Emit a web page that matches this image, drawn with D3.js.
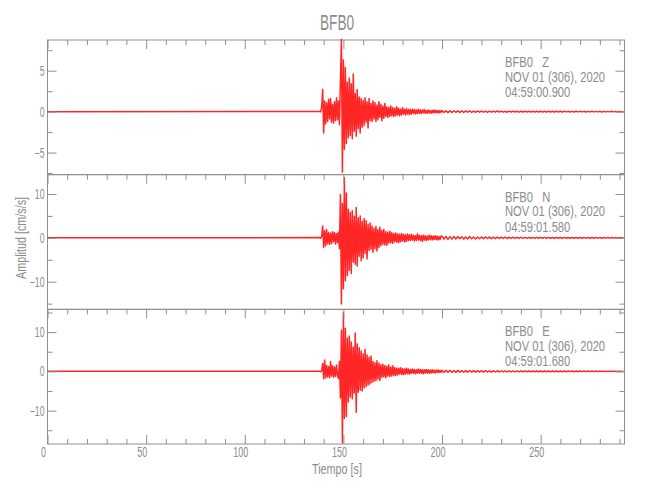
<!DOCTYPE html>
<html><head><meta charset="utf-8">
<script src="https://cdn.jsdelivr.net/npm/d3@7"></script>
<style>body{margin:0;background:#fff}svg{display:block}</style>
</head><body>
<script>
// ---------- data ----------
const title = "BFB0";
const stationName = "BFB0";
const components = ["Z", "N", "E"];
const startTimes = ["04:59:00.900", "04:59:01.580", "04:59:01.680"];
const dateLabel = "NOV 01 (306), 2020";
const xLabel = "Tiempo [s]";
const yLabel = "Amplitud [cm/s/s]";
const xDomain = [0, 292.5];
const xTickValues = [0, 50, 100, 150, 200, 250];
const yDomains = [[-7.7, 8.75], [-16.3, 14.4], [-18.5, 15.8]];
const yMajorTicks = [[-5, 0, 5], [-10, 0, 10], [-10, 0, 10]];
const yMinorTicks = [[-7.5, -2.5, 2.5, 7.5], [-15, -5, 5], [-15, -5, 5, 15]];
const quietStart = 0;           // trace before the event is flat at 0
const mainStart = 138, mainStep = 0.5;
const tailStart = 200, tailStep = 1;

const zMain = [0.03,-0.04,0.6,2.7,-2.6,1.3,-1.5,1.1,-1.2,1.5,-0.9,1.6,-1.3,0.9,-1.4,1.2,-1.1,1.7,-1.0,1.3,
-1.6,3.8,8.8,-7.4,6.3,-4.6,5.4,-3.9,3.6,-3.2,4.1,-2.9,3.4,-3.3,4.6,-2.4,2.2,-3.0,2.7,-2.1,
1.8,-2.6,1.6,-1.9,1.4,-1.7,1.7,-1.3,1.2,-2.0,1.6,-1.1,1.0,-1.2,1.3,-0.9,1.1,-1.2,0.8,-1.0,
1.2,-0.7,0.9,-1.1,0.7,-0.8,1.0,-0.6,0.6,-0.7,0.5,-0.6,0.7,-0.5,0.5,-0.6,0.4,-0.5,0.6,-0.4,
0.4,-0.5,0.3,-0.4,0.5,-0.3,0.3,-0.4,0.35,-0.3,0.3,-0.35,0.25,-0.3,0.3,-0.2,0.25,-0.3,0.2,-0.25,
0.3,-0.2,0.2,-0.25,0.2,-0.15,0.25,-0.2,0.15,-0.2,0.2,-0.15,0.15,-0.2,0.15,-0.15,0.2,-0.12,0.15,-0.15,
0.12,-0.15,0.15,-0.1];
const zTail = [0.12,-0.1,0.1,-0.12,0.09,-0.1,0.11,-0.08,0.1,-0.09,0.08,-0.1,0.09,-0.07,0.08,-0.09,0.07,-0.08,0.09,-0.06,
0.07,-0.07,0.06,-0.08,0.07,-0.06,0.06,-0.07,0.08,-0.05,0.06,-0.06,0.05,-0.07,0.06,-0.05,0.06,-0.05,0.05,-0.06,
0.05,-0.05,0.06,-0.04,0.05,-0.05,0.04,-0.05,0.05,-0.04,0.05,-0.04,0.04,-0.05,0.04,-0.04,0.05,-0.04,0.04,-0.04,
0.04,-0.05,0.04,-0.03,0.04,-0.04,0.03,-0.04,0.04,-0.03,0.04,-0.03,0.03,-0.04,0.03,-0.03,0.04,-0.03,0.03,-0.03,
0.03,-0.04,0.03,-0.03,0.03,-0.03,0.04,-0.03,0.03,-0.03,0.03,-0.03,0.02];

const nMain = [0.05,-0.1,0.4,2.7,-2.2,1.6,-1.8,1.9,-1.4,1.2,-1.5,1.1,-1.3,1.4,-0.9,1.2,-1.4,1.0,-1.1,1.3,
-2.5,9.9,-15.1,7.8,-11.6,13.7,-9.8,10.2,-8.6,6.5,-7.4,5.8,-8.1,6.2,-5.5,4.9,-6.0,6.9,-6.4,4.6,
-4.2,5.0,-5.2,3.8,-4.6,4.4,-3.5,3.9,-4.8,3.1,-2.9,3.4,-2.6,2.7,-3.3,2.2,-2.5,2.6,-3.0,1.9,
-2.2,2.4,-1.8,1.7,-1.5,1.9,-1.6,1.4,-1.7,1.3,-1.2,1.5,-1.1,1.2,-1.3,1.0,-0.9,1.1,-1.0,0.9,
-1.1,0.8,-0.9,1.0,-0.7,0.8,-0.9,0.7,-0.8,0.9,-0.6,0.7,-0.6,0.8,-0.5,0.6,-0.7,0.5,-0.6,0.9,
-0.5,0.6,-0.6,0.5,-0.8,0.6,-0.5,0.5,-0.6,0.4,-0.5,0.6,-0.4,0.5,-0.5,0.4,-0.4,0.5,-0.4,0.4,
-0.5,0.3,-0.4,0.4];
const nTail = [0.35,-0.3,0.3,-0.35,0.25,-0.3,0.3,-0.25,0.3,-0.2,0.25,-0.3,0.2,-0.25,0.3,-0.2,0.2,-0.25,0.2,-0.2,
0.2,-0.18,0.2,-0.15,0.18,-0.18,0.15,-0.18,0.15,-0.15,0.15,-0.15,0.14,-0.15,0.12,-0.14,0.15,-0.12,0.12,-0.12,
0.12,-0.12,0.1,-0.12,0.12,-0.1,0.1,-0.12,0.1,-0.1,0.1,-0.1,0.1,-0.09,0.1,-0.1,0.09,-0.1,0.08,-0.1,
0.09,-0.08,0.1,-0.09,0.08,-0.08,0.09,-0.08,0.08,-0.08,0.08,-0.08,0.08,-0.07,0.08,-0.08,0.07,-0.08,0.08,-0.07,
0.07,-0.08,0.07,-0.07,0.08,-0.07,0.07,-0.07,0.07,-0.07,0.07,-0.06,0.06];

const eMain = [0.05,-0.08,0.2,2.0,-1.9,2.9,-1.7,1.5,-1.4,1.2,-1.6,2.5,-1.2,1.4,-1.5,1.1,-1.3,1.6,-1.0,-1.8,
2.6,-6.8,10.5,-18.2,15.0,-12.0,11.0,-11.5,8.5,-7.8,9.0,-6.5,7.5,-7.0,6.2,-5.5,9.8,-10.4,7.0,-5.3,
6.0,-4.8,5.2,-5.0,4.5,-4.2,5.6,-3.9,4.2,-3.5,3.6,-3.2,3.9,-2.8,2.5,-2.6,2.2,-2.4,2.7,-2.0,
2.1,-2.3,1.7,-1.5,1.8,-1.4,1.5,-1.6,1.3,-1.2,1.6,-1.3,1.1,-1.2,1.4,-1.0,1.0,-1.1,0.8,-0.9,
0.8,-0.7,0.9,-0.8,0.7,-0.8,0.6,-0.7,0.8,-0.6,0.6,-0.7,0.5,-0.5,0.6,-0.5,0.5,-0.6,0.4,-0.5,
0.6,-0.4,0.5,-0.5,0.4,-0.6,0.4,-0.4,0.5,-0.4,0.4,-0.5,0.35,-0.4,0.4,-0.35,0.3,-0.4,0.35,-0.3,
0.35,-0.3,0.3,-0.3];
const eTail = [0.3,-0.28,0.3,-0.25,0.28,-0.25,0.22,-0.25,0.25,-0.2,0.22,-0.22,0.2,-0.2,0.22,-0.18,0.18,-0.2,0.18,-0.18,
0.16,-0.18,0.17,-0.15,0.15,-0.16,0.14,-0.15,0.15,-0.13,0.13,-0.14,0.12,-0.13,0.13,-0.12,0.12,-0.12,0.11,-0.12,
0.11,-0.1,0.12,-0.1,0.1,-0.11,0.1,-0.1,0.1,-0.09,0.1,-0.09,0.09,-0.1,0.09,-0.08,0.09,-0.09,0.08,-0.08,
0.08,-0.09,0.08,-0.08,0.08,-0.07,0.08,-0.08,0.07,-0.08,0.07,-0.07,0.08,-0.07,0.07,-0.07,0.07,-0.07,0.07,-0.06,
0.07,-0.06,0.06,-0.07,0.06,-0.06,0.06,-0.06,0.06,-0.06,0.06,-0.06,0.06];

const mainSeries = [zMain, nMain, eMain];
const tailSeries = [zTail, nTail, eTail];

// ---------- layout ----------
const W = 650, H = 500;
const plotLeft = 47.5, plotRight = 624.5, plotTop = 40, plotBottom = 444;
const panelH = (plotBottom - plotTop) / 3;
const FONT = "'Liberation Sans', Arial, sans-serif";
const TXT = "#8c8c8c", AX = "#8f8f8f", TRACE = "#ff0000";

const svg = d3.select("body").append("svg").attr("width", W).attr("height", H);
const x = d3.scaleLinear().domain(xDomain).range([plotLeft, plotRight]);

function addText(parent, px, py, str, size, f, anchor, rot) {
  return parent.append("text")
    .attr("transform", `translate(${px},${py})${rot ? ` rotate(${rot})` : ""} scale(${f},1)`)
    .attr("text-anchor", anchor || "start")
    .attr("font-family", FONT).attr("font-size", size)
    .attr("fill", TXT).style("white-space", "pre").text(str);
}

addText(svg, 337, 30, title, 22, 0.62, "middle");

components.forEach((comp, i) => {
  const y0 = plotTop + i * panelH, y1 = y0 + panelH;
  const y = d3.scaleLinear().domain(yDomains[i]).range([y1, y0]);
  const g = svg.append("g");

  // frame
  g.append("rect").attr("x", plotLeft).attr("y", y0).attr("width", plotRight - plotLeft).attr("height", panelH)
    .attr("fill", "none").attr("stroke", AX).attr("stroke-width", 1);

  // trace
  const pts = [[quietStart, 0]];
  mainSeries[i].forEach((v, k) => pts.push([mainStart + k * mainStep, v]));
  tailSeries[i].forEach((v, k) => pts.push([tailStart + k * tailStep, v]));
  g.append("path").datum(pts)
    .attr("d", d3.line().x(d => x(d[0])).y(d => y(d[1])))
    .attr("fill", "none").attr("stroke", TRACE).attr("stroke-width", 1.5)
    .attr("stroke-opacity", 0.85).attr("stroke-linejoin", "round");

  const minorX = d3.range(10, 292, 10).filter(v => v % 50);
  // top ticks (inside)
  const topMajor = d3.axisBottom(x).tickValues(xTickValues).tickSize(9).tickSizeOuter(0).tickFormat("");
  const topMinor = d3.axisBottom(x).tickValues(minorX).tickSize(5).tickSizeOuter(0).tickFormat("");
  [topMajor, topMinor].forEach(ax => {
    const a = g.append("g").attr("transform", `translate(0,${y0})`).call(ax);
    a.select(".domain").remove();
    a.selectAll("line").attr("stroke", AX);
  });

  // left / right ticks
  const lMaj = d3.axisRight(y).tickValues(yMajorTicks[i]).tickSize(9).tickSizeOuter(0).tickFormat("");
  const lMin = d3.axisRight(y).tickValues(yMinorTicks[i]).tickSize(5).tickSizeOuter(0).tickFormat("");
  const rMaj = d3.axisLeft(y).tickValues(yMajorTicks[i]).tickSize(9).tickSizeOuter(0).tickFormat("");
  const rMin = d3.axisLeft(y).tickValues(yMinorTicks[i]).tickSize(5).tickSizeOuter(0).tickFormat("");
  [[lMaj, plotLeft], [lMin, plotLeft], [rMaj, plotRight], [rMin, plotRight]].forEach(([ax, px]) => {
    const a = g.append("g").attr("transform", `translate(${px},0)`).call(ax);
    a.select(".domain").remove();
    a.selectAll("line").attr("stroke", AX);
  });
  // y tick labels
  yMajorTicks[i].forEach(v => {
    addText(g, plotLeft - 3, y(v) + 5, v < 0 ? "\u2212" + Math.abs(v) : String(v), 14, 0.62, "end");
  });

  // annotation
  const ax0 = 505;
  addText(g, ax0, y0 + 27, stationName + "   " + comp, 14, 0.8, "start");
  addText(g, ax0, y0 + 41.5, dateLabel, 14, 0.8, "start");
  addText(g, ax0, y0 + 57, startTimes[i], 14, 0.8, "start");

  if (i === 2) {
    const bMaj = d3.axisTop(x).tickValues(xTickValues).tickSize(9).tickSizeOuter(0).tickFormat("");
    const bMin = d3.axisTop(x).tickValues(minorX).tickSize(5).tickSizeOuter(0).tickFormat("");
    [bMaj, bMin].forEach(ax => {
      const a = g.append("g").attr("transform", `translate(0,${y1})`).call(ax);
      a.select(".domain").remove();
      a.selectAll("line").attr("stroke", AX);
    });
    xTickValues.forEach(v => addText(g, x(v) - 4, y1 + 13, String(v), 15, 0.6, "middle"));
  }
});

addText(svg, 337, 474, xLabel, 15, 0.72, "middle");
addText(svg, 26, 238, yLabel, 15, 0.72, "middle", -90);
</script>
</body></html>
